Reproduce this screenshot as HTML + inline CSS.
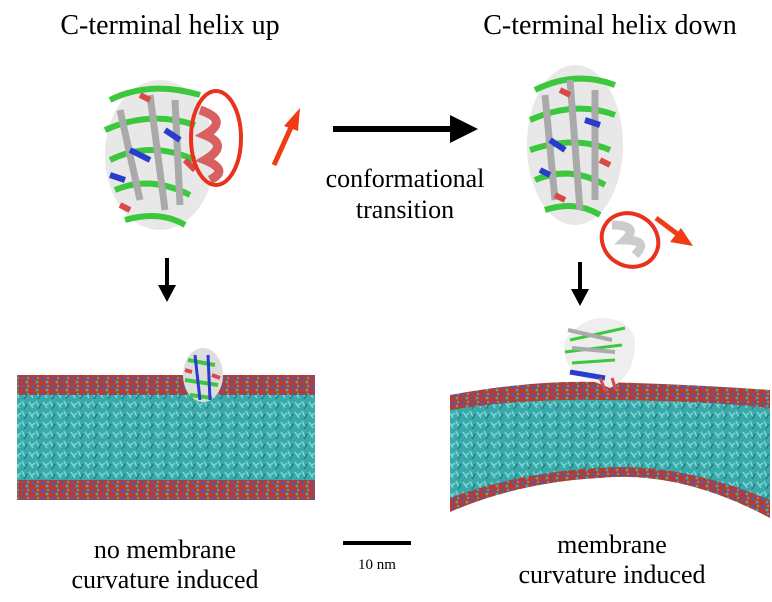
<!DOCTYPE html>
<html><head><meta charset="utf-8"><style>
html,body{margin:0;padding:0;background:#fff;}
svg{display:block;}
text{font-family:"Liberation Serif",serif;fill:#000;}
</style></head><body>
<svg width="772" height="602" viewBox="0 0 772 602" xmlns="http://www.w3.org/2000/svg">
<defs>
<pattern id="mem" width="14" height="10" patternUnits="userSpaceOnUse">
<rect width="14" height="10" fill="#3aa9aa"/>
<path d="M1 2 L5 8 M8 1 L11 7 M3 6 L7 3" stroke="#7fd6d6" stroke-width="1.5"/>
<path d="M10 9 L13 4" stroke="#1f7f80" stroke-width="1.5"/>
</pattern>
<pattern id="head" width="10" height="8" patternUnits="userSpaceOnUse">
<rect width="10" height="8" fill="#b83a30"/>
<circle cx="3" cy="3" r="1.6" fill="#3a5fd0"/>
<circle cx="7" cy="6" r="1.5" fill="#3aa9aa"/>
<circle cx="8" cy="2" r="1.2" fill="#4aa"/>
</pattern>
</defs>

<text x="170" y="34" font-size="28" text-anchor="middle">C-terminal helix up</text>
<text x="610" y="34" font-size="28" text-anchor="middle">C-terminal helix down</text>

<!-- left protein -->
<g>
<ellipse cx="160" cy="155" rx="55" ry="75" fill="#e8e8e8"/>
<path d="M110 100 Q150 80 200 95 M105 130 Q150 110 195 125 M110 160 Q150 140 195 160 M115 190 Q150 175 190 195 M125 220 Q160 210 185 225" stroke="#3cc83c" stroke-width="6" fill="none"/>
<path d="M120 110 L140 200 M150 95 L165 210 M175 100 L180 205" stroke="#aaa" stroke-width="7" fill="none"/>
<path d="M130 150 L150 160 M165 130 L180 140 M110 175 L125 180" stroke="#2a3ccc" stroke-width="6"/>
<path d="M140 95 L150 100 M185 160 L195 170 M120 205 L130 210" stroke="#d84a4a" stroke-width="6"/>
<path d="M200 110 Q230 120 205 135 Q230 145 205 160 Q230 170 210 180" stroke="#d86060" stroke-width="9" fill="none"/>
</g>
<ellipse cx="216" cy="138" rx="25" ry="47" fill="none" stroke="#e8321e" stroke-width="4"/>
<line x1="274" y1="165" x2="292" y2="125" stroke="#f03c14" stroke-width="5"/>
<polygon points="300,108 284,126 298,131" fill="#f03c14"/>

<!-- top arrow -->
<line x1="333" y1="129" x2="455" y2="129" stroke="#000" stroke-width="6"/>
<polygon points="478,129 450,115 450,143" fill="#000"/>
<text x="405" y="187" font-size="26" text-anchor="middle">conformational</text>
<text x="405" y="218" font-size="26" text-anchor="middle">transition</text>

<!-- right protein -->
<g>
<ellipse cx="575" cy="145" rx="48" ry="80" fill="#e8e8e8"/>
<path d="M535 90 Q575 70 615 85 M530 120 Q575 100 615 115 M530 150 Q575 135 610 150 M535 180 Q570 165 605 185 M545 210 Q575 200 600 215" stroke="#3cc83c" stroke-width="6" fill="none"/>
<path d="M545 95 L555 200 M570 80 L580 210 M595 90 L595 200" stroke="#aaa" stroke-width="7" fill="none"/>
<path d="M550 140 L565 150 M585 120 L600 125 M540 170 L550 175" stroke="#2a3ccc" stroke-width="6"/>
<path d="M560 90 L570 95 M600 160 L610 165 M555 195 L565 200" stroke="#d84a4a" stroke-width="6"/>
<path d="M612 225 Q640 225 625 240 Q650 240 635 255" stroke="#ccc" stroke-width="9" fill="none"/>
</g>
<ellipse cx="630" cy="240" rx="29" ry="26" transform="rotate(30 630 240)" fill="none" stroke="#e8321e" stroke-width="4"/>
<line x1="656" y1="218" x2="680" y2="236" stroke="#f03c14" stroke-width="5"/>
<polygon points="693,246 670,242 681,228" fill="#f03c14"/>

<!-- down arrows -->
<line x1="167" y1="258" x2="167" y2="288" stroke="#000" stroke-width="4"/>
<polygon points="167,302 158,285 176,285" fill="#000"/>
<line x1="580" y1="262" x2="580" y2="292" stroke="#000" stroke-width="4"/>
<polygon points="580,306 571,289 589,289" fill="#000"/>

<!-- left membrane -->
<rect x="17" y="375" width="298" height="125" fill="url(#head)"/>
<rect x="17" y="395" width="298" height="85" fill="url(#mem)"/>
<g>
<ellipse cx="203" cy="375" rx="20" ry="27" fill="#ddd"/>
<path d="M188 360 L215 365 M185 380 L218 385 M190 395 L212 398" stroke="#3cc83c" stroke-width="4"/>
<path d="M195 355 L200 400 M208 355 L210 400" stroke="#2a3ccc" stroke-width="3"/>
<path d="M185 370 L192 372 M212 375 L220 378" stroke="#d84a4a" stroke-width="4"/>
</g>

<!-- right membrane (arched bottom) -->
<path d="M450 395 Q530 380 600 382 Q690 384 770 390 L770 518 Q680 470 600 478 Q520 482 450 512 Z" fill="url(#head)"/>
<path d="M450 410 Q530 398 600 400 Q690 400 770 408 L770 500 Q680 462 600 468 Q520 472 450 498 Z" fill="url(#mem)"/>
<g>
<path d="M565 340 Q580 320 600 318 Q630 318 635 340 Q636 375 610 388 L590 380 Q560 370 565 340 Z" fill="#eee"/>
<path d="M570 340 L625 328 M565 352 L622 345 M572 363 L615 360" stroke="#3cc83c" stroke-width="3"/>
<path d="M568 330 L612 340 M572 348 L615 352" stroke="#aaa" stroke-width="4"/>
<path d="M570 372 L605 378" stroke="#2a3ccc" stroke-width="5"/>
<path d="M600 378 L606 392 M612 378 L616 390" stroke="#d84a4a" stroke-width="3"/>
</g>

<!-- scale bar -->
<line x1="343" y1="543" x2="411" y2="543" stroke="#000" stroke-width="4"/>
<text x="377" y="569" font-size="15" text-anchor="middle">10 nm</text>

<text x="165" y="558" font-size="26" text-anchor="middle">no membrane</text>
<text x="165" y="588" font-size="26" text-anchor="middle">curvature induced</text>
<text x="612" y="553" font-size="26" text-anchor="middle">membrane</text>
<text x="612" y="583" font-size="26" text-anchor="middle">curvature induced</text>
</svg>
</body></html>
